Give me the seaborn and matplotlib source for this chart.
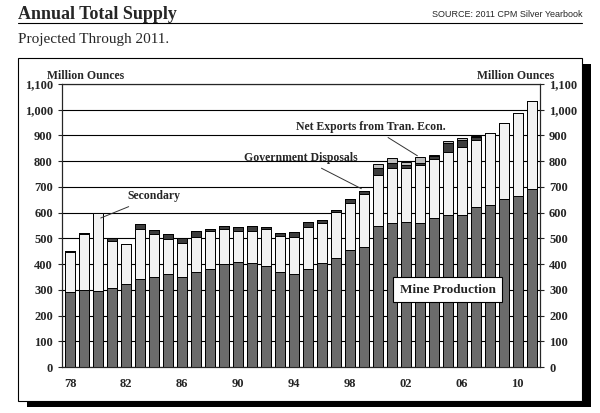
import numpy as np
import pandas as pd
import matplotlib.pyplot as plt
import seaborn as sns

years = list(range(1978, 2012))
mine = [293, 299, 295, 306, 321, 341, 349, 360, 349, 368, 383, 399, 407, 403, 394, 368, 360,
        383, 403, 422, 455, 468, 548, 558, 565, 558, 578, 591, 591, 621, 630, 652, 665, 691]
secondary = [153, 218, 302, 185, 157, 195, 168, 137, 132, 136, 147, 137, 123, 127, 142, 142, 144,
             162, 158, 182, 184, 205, 198, 214, 207, 227, 229, 246, 265, 261, 281, 295, 323, 343]
gov = [6, 3, 0, 9, 0, 19, 17, 19, 19, 25, 6, 13, 15, 19, 7, 12, 22,
       19, 10, 6, 13, 12, 26, 22, 13, 9, 13, 35, 26, 10, 0, 0, 0, 0]
net_exp = [0, 0, 0, 0, 0, 0, 0, 0, 0, 0, 0, 0, 0, 0, 0, 0, 0,
           0, 0, 0, 0, 0, 17, 17, 13, 21, 4, 6, 7, 5, 0, 0, 0, 0]

df = pd.DataFrame({"year": years, "mine": mine, "secondary": secondary, "gov": gov, "net": net_exp})
df["l1"] = df["mine"]
df["l2"] = df["l1"] + df["secondary"]
df["l3"] = df["l2"] + df["gov"]
df["l4"] = df["l3"] + df["net"]
df["label"] = df["year"].astype(str)

sns.set_style("white")
plt.rcParams["font.family"] = ["Liberation Serif", "DejaVu Serif"]

fig = plt.figure(figsize=(6, 4.13), dpi=100)
# shadow and frame
fig.patches.append(plt.Rectangle((0.045, 0.015), 0.94, 0.83, transform=fig.transFigure,
                                 facecolor="black", edgecolor="none", zorder=-2))
fig.patches.append(plt.Rectangle((0.03, 0.03), 0.94, 0.83, transform=fig.transFigure,
                                 facecolor="white", edgecolor="black", lw=0.8, zorder=-1))
fig.text(0.03, 0.955, "Annual Total Supply", fontsize=13, fontweight="bold")
fig.text(0.97, 0.96, "SOURCE: 2011 CPM Silver Yearbook", fontsize=6.5, ha="right",
         family=["Liberation Sans", "DejaVu Sans"])
fig.add_artist(plt.Line2D([0.03, 0.97], [0.945, 0.945], color="black", lw=0.8))
fig.text(0.03, 0.895, "Projected Through 2011.", fontsize=11)

ax = fig.add_axes([0.103, 0.111, 0.797, 0.686])
ax.set_zorder(2)
layers = [("l4", "#bdbdbd"), ("l3", "#3c3c3c"), ("l2", "#f2f2f2"), ("l1", "#6b6b6b")]
for col, color in layers:
    sns.barplot(data=df, x="label", y=col, color=color, edgecolor="black", linewidth=0.7,
                width=0.72, saturation=1, ax=ax, zorder=3)

ax.set_ylim(0, 1100)
ax.set_xlim(-0.6, len(years) - 0.4)
ax.set_yticks(range(0, 1101, 100))
ax.set_yticklabels([f"{v:,}" for v in range(0, 1101, 100)], fontsize=9, fontweight="bold")
ax.set_xticks(range(len(years)))
ax.set_xticklabels([(str(y)[2:] + ("e" if y == 2011 else "")) if (y - 1978) % 4 == 0 else ""
                    for y in years], fontsize=9, fontweight="bold")
ax.tick_params(axis="x", length=4, direction="out")
ax.tick_params(axis="y", length=3, direction="out")
ax.set_xlabel("")
ax.set_ylabel("")
ax.yaxis.grid(True, color="black", lw=0.8)
ax.set_axisbelow(True)
for s in ax.spines.values():
    s.set_color("black")
    s.set_linewidth(0.8)

ax2 = ax.twinx()
ax2.set_zorder(3)
ax2.patch.set_visible(False)
ax2.set_ylim(0, 1100)
ax2.set_yticks(range(0, 1101, 100))
ax2.set_yticklabels([f"{v:,}" for v in range(0, 1101, 100)], fontsize=9, fontweight="bold")
ax2.tick_params(axis="y", length=3)

ax.text(-0.03, 1.005, "Million Ounces", transform=ax.transAxes, fontsize=8.5, fontweight="bold",
        va="bottom")
ax.text(1.03, 1.005, "Million Ounces", transform=ax.transAxes, fontsize=8.5, fontweight="bold",
        va="bottom", ha="right")

ax.annotate("Secondary", xy=(2, 575), xytext=(6, 640), fontsize=8.5, fontweight="bold",
            ha="center", va="bottom", arrowprops=dict(arrowstyle="-", lw=0.7, color="#333333"))
ax.annotate("Government Disposals", xy=(21, 688), xytext=(16.5, 790), fontsize=8.5,
            fontweight="bold", ha="center", va="bottom",
            arrowprops=dict(arrowstyle="-", lw=0.7, color="#333333"))
ax.annotate("Net Exports from Tran. Econ.", xy=(25, 815), xytext=(21.5, 910), fontsize=8.5,
            fontweight="bold", ha="center", va="bottom",
            arrowprops=dict(arrowstyle="-", lw=0.7, color="#333333"))
ax.text(27, 300, "Mine Production", fontsize=9.5, fontweight="bold", ha="center", va="center",
        zorder=5, bbox=dict(boxstyle="square,pad=0.5", facecolor="white", edgecolor="black", lw=0.8))

fig.savefig("out.png", dpi=100)
